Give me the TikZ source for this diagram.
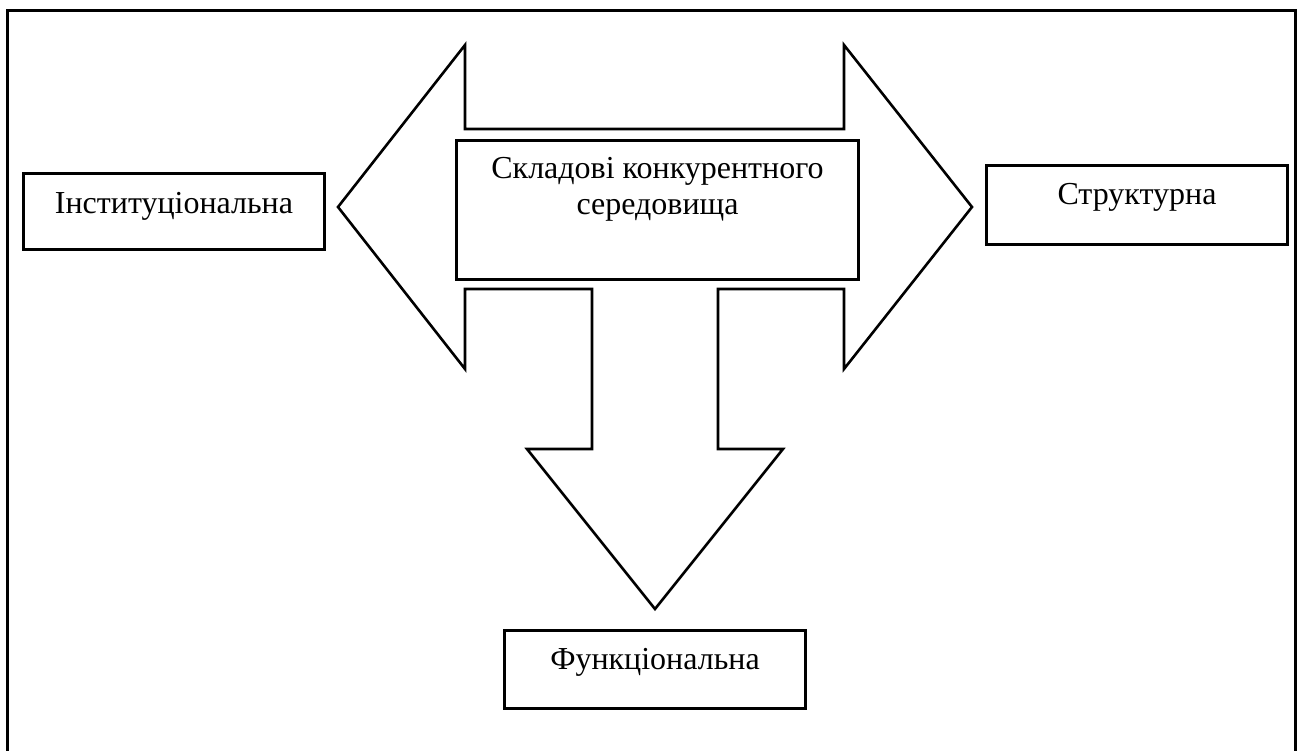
\documentclass[tikz,border=0pt]{standalone}
\usepackage{fontspec}
\setmainfont{Liberation Serif}
\usetikzlibrary{positioning}
\tikzset{
  part/.style={rectangle,draw,line width=3pt,fill=white,anchor=north west,inner sep=0pt},
  lbl/.style={font=\fontsize{32}{36}\selectfont,inner sep=0pt,align=center},
  frame/.style={line width=3pt},
  bigarrow/.style={draw,line width=2.6pt,fill=white,line join=miter}
}
\begin{document}
\begin{tikzpicture}[x=1pt,y=-1pt]
\useasboundingbox (0,0) rectangle (1302,751);
\draw[frame] (7,751) -- (7,11) -- (1295,11) -- (1295,751);
% three-headed arrow
\draw[bigarrow] (338,207) -- (465,45) -- (465,129) -- (844,129) -- (844,45)
  -- (972,207) -- (844,369) -- (844,289) -- (718,289) -- (718,449)
  -- (783,449) -- (655,609) -- (527,449) -- (592,449) -- (592,289)
  -- (465,289) -- (465,369) -- cycle;
\node[part,minimum width=402,minimum height=139] (core) at (455,139) {};
\node[lbl,below=18pt of core.north] (coreT) {Складові конкурентного\\середовища};
\node[part,minimum width=301,minimum height=76] (inst) at (22,172) {};
\node[lbl,anchor=base] at ([yshift=-2pt]inst.center) {Інституціональна};
\node[part,minimum width=301,minimum height=79] (str) at (985,164) {};
\node[lbl,anchor=base] at (str.center) {Структурна};
\node[part,minimum width=301,minimum height=78] (func) at (503,629) {};
\node[lbl,anchor=base] at (func.center) {Функціональна};
\end{tikzpicture}
\end{document}
